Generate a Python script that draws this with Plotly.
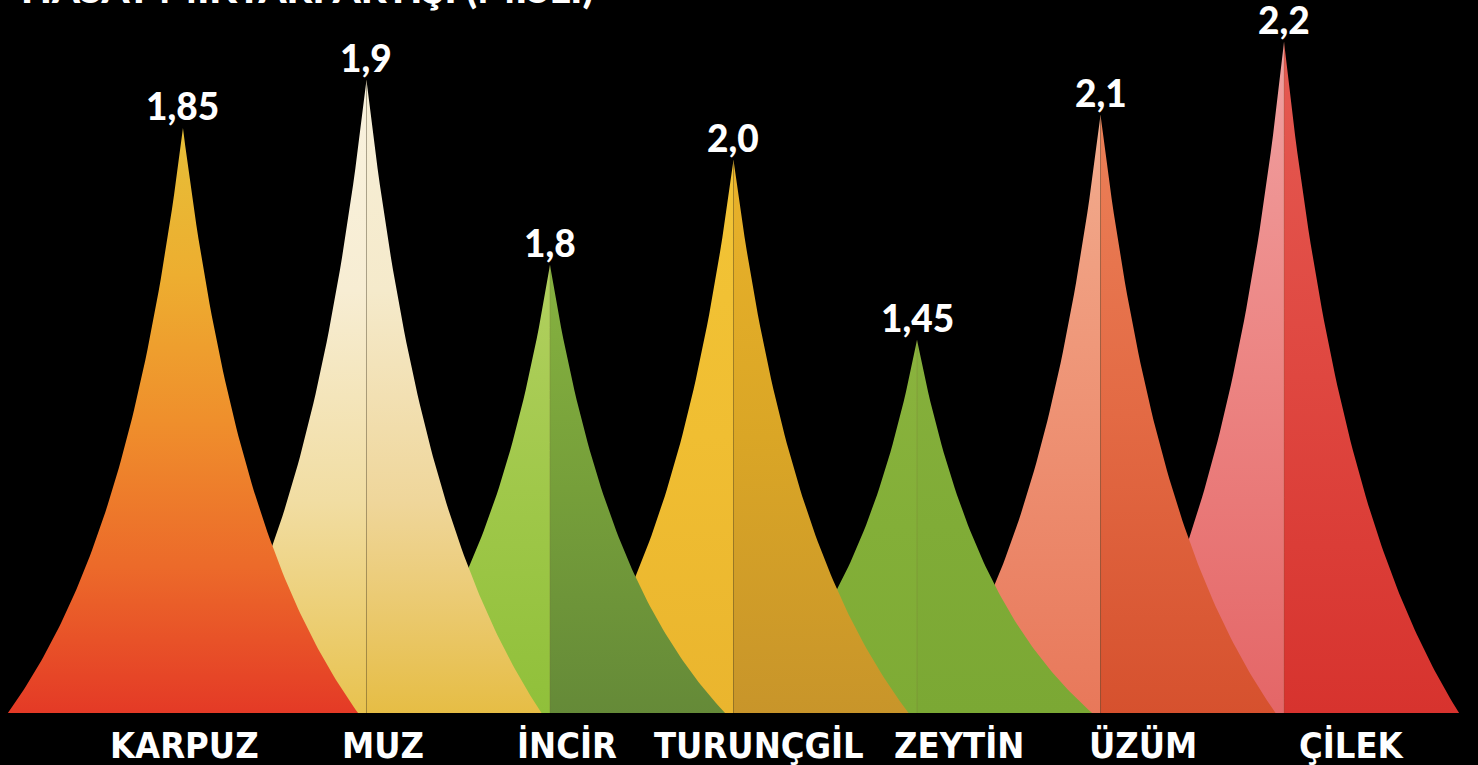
import numpy as np
import plotly.graph_objects as go

# ---------------- data ----------------
categories = ["KARPUZ", "MUZ", "İNCİR", "TURUNÇGİL", "ZEYTİN", "ÜZÜM", "ÇİLEK"]
value_labels = ["1,85", "1,9", "1,8", "2,0", "1,45", "2,1", "2,2"]
# peak heights as drawn in the picture (display units)
peak_heights = [5.85, 6.33, 4.48, 5.53, 3.73, 5.98, 6.71]
title_text = "HASAT MİKTARI ARTIŞI (MİSLİ)"

# ---------------- styling ----------------
half_width = 0.954          # base half-width of each spike, in category units
curve_a = 1.4               # concavity of spike sides
label_offsets = [0.01, 0.09, 0.09, 0.14, 0.23, 0.23, 0.37]

colors = [
    (["#E43A26", "#EC6A2A", "#EF8F2C", "#EDAE30", "#E6BF38"], None),
    (["#E8C24E", "#F1DDA2", "#F7EDD3", "#F9F2DE"], ["#E6BD45", "#EFD69A", "#F5EACB", "#F7EFD8"]),
    (["#90C03A", "#A0C84A", "#B2D060"], ["#658A38", "#769F3A", "#86B240"]),
    (["#EAB52E", "#F0BE32", "#F2C436"], ["#C8952A", "#DAA626", "#E9B22A"]),
    (["#7EAB35", "#83AF38", "#8AB33E"], ["#7BA834", "#80AC37", "#86B03C"]),
    (["#E8785A", "#EE9274", "#F2AC8E"], ["#D6512E", "#E36A44", "#EB8058"]),
    (["#E46667", "#EC8482", "#F0A0A0"], ["#D7332E", "#DF4740", "#E55A52"]),
]


def scale(cols):
    n = len(cols)
    return [[i / (n - 1), c] for i, c in enumerate(cols)]


def side(h, n=80):
    u = np.linspace(0, 1, n)
    t = (1 - u) / (1 + curve_a * u)
    return u * half_width, t * h


fig = go.Figure()

order = list(range(len(categories)))[::-1]   # rightmost in back, leftmost in front
for i in order:
    h = peak_heights[i]
    cx = i
    du, yy = side(h)
    left_cols, right_cols = colors[i]
    if right_cols is None:
        xs = np.concatenate([cx - du[::-1], cx + du])
        ys = np.concatenate([yy[::-1], yy])
        xs = np.append(xs, xs[0])
        ys = np.append(ys, ys[0])
        fig.add_trace(go.Scatter(
            x=xs, y=ys, mode="lines", fill="toself", line=dict(width=0),
            fillgradient=dict(type="vertical", colorscale=scale(left_cols), start=0, stop=h),
            hoverinfo="skip", showlegend=False))
    else:
        xs = np.concatenate([cx - du, [cx, cx]])
        ys = np.concatenate([yy, [0, h]])
        fig.add_trace(go.Scatter(
            x=xs, y=ys, mode="lines", fill="toself", line=dict(width=0),
            fillgradient=dict(type="vertical", colorscale=scale(left_cols), start=0, stop=h),
            hoverinfo="skip", showlegend=False))
        xs = np.concatenate([cx + du, [cx, cx]])
        fig.add_trace(go.Scatter(
            x=xs, y=ys, mode="lines", fill="toself", line=dict(width=0),
            fillgradient=dict(type="vertical", colorscale=scale(right_cols), start=0, stop=h),
            hoverinfo="skip", showlegend=False))
        fig.add_trace(go.Scatter(
            x=[cx, cx], y=[0, h], mode="lines",
            line=dict(width=1, color="rgba(120,100,60,0.22)"),
            hoverinfo="skip", showlegend=False))

# value labels above peaks
for i, (lab, h) in enumerate(zip(value_labels, peak_heights)):
    fig.add_annotation(x=i, y=h, text=lab, showarrow=False, yanchor="bottom",
                       yshift=-2, font=dict(family="Lato", size=37, color="white", weight=900))

# category labels
for i, cat in enumerate(categories):
    fig.add_annotation(x=i + label_offsets[i], y=0, text=cat, showarrow=False,
                       yanchor="top", yshift=-10,
                       font=dict(family="DejaVu Sans Condensed", size=36, color="white", weight="bold"))

# title (cut at the top edge as in the picture)
fig.add_annotation(xref="paper", yref="paper", x=0.013, y=1, xanchor="left", yanchor="bottom",
                   yshift=-14, text=title_text, showarrow=False,
                   font=dict(family="Lato", size=40, color="white", weight=900))

fig.update_layout(
    width=1478, height=765,
    margin=dict(l=0, r=0, t=0, b=0),
    paper_bgcolor="black", plot_bgcolor="black",
    xaxis=dict(range=[-0.997, 7.057], visible=False, fixedrange=True),
    yaxis=dict(range=[-0.52, 7.13], visible=False, fixedrange=True),
)

fig.write_html("out.html",
               config={"displayModeBar": False},
               post_script="document.body.style.margin='0';document.body.style.background='black';document.body.style.overflow='hidden';")
